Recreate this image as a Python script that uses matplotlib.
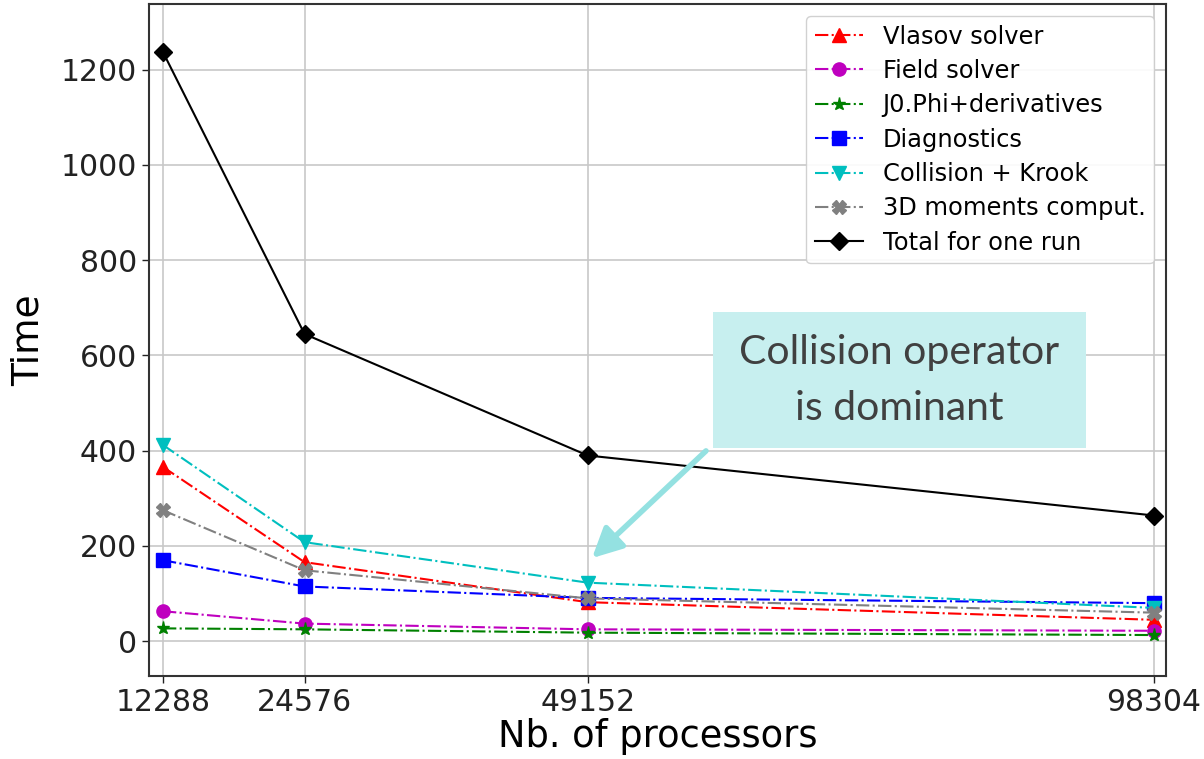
import matplotlib
matplotlib.use("Agg")
import matplotlib.pyplot as plt
from matplotlib.patches import Rectangle, FancyArrowPatch

plt.rcParams['font.family'] = ['DejaVu Sans']

procs = [12288, 24576, 49152, 98304]
xtick_labels = ["12288", "24576", "49152", "98304"]

vlasov = [366, 166, 82, 45]
field = [63, 37, 25, 22]
j0phi = [27, 25, 18, 13]
diagnostics = [170, 115, 91, 80]
collision = [412, 208, 123, 70]
moments3d = [275, 149, 90, 60]
total = [1237, 645, 390, 264]

series = [
    ("Vlasov solver", vlasov, "r", "^", "-."),
    ("Field solver", field, "m", "o", "-."),
    ("J0.Phi+derivatives", j0phi, "g", "*", "-."),
    ("Diagnostics", diagnostics, "b", "s", "-."),
    ("Collision + Krook", collision, "c", "v", "-."),
    ("3D moments comput.", moments3d, "grey", "X", "-."),
    ("Total for one run", total, "k", "D", "-"),
]

W, H = 1204, 759
fig = plt.figure(figsize=(W / 100, H / 100), dpi=100)
ax = fig.add_axes([149 / W, 1 - 676 / H, (1166 - 149) / W, (676 - 4) / H])

for label, vals, col, mk, ls in series:
    ax.plot(procs, vals, color=col, marker=mk, linestyle=ls, linewidth=1.5,
            markersize=9.5, label=label)

ax.set_xlim(11074, 99344)
ax.set_ylim(-73, 1338)
ax.set_xticks(procs)
ax.set_xticklabels(xtick_labels)
ax.set_yticks([0, 200, 400, 600, 800, 1000, 1200])
ax.tick_params(labelsize=21.5, length=5, width=1, colors="#222222")
ax.grid(True, color="#c8c8c8", linewidth=1.2)
for s in ax.spines.values():
    s.set_color("#333333")
    s.set_linewidth(1.5)
ax.set_xlabel("Nb. of processors", fontsize=26.5, labelpad=1)
ax.set_ylabel("Time", fontsize=27, labelpad=10)

leg = ax.legend(loc="upper right", fontsize=17.4, framealpha=0.9,
                borderaxespad=0.5, handlelength=2.0, labelspacing=0.43,
                borderpad=0.35)

# annotation box
box_l, box_r, box_t, box_b = 713, 1086, 312, 448
fig.patches.append(Rectangle((box_l / W, 1 - box_b / H), (box_r - box_l) / W,
                             (box_b - box_t) / H, transform=fig.transFigure,
                             facecolor="#c7efef", edgecolor="none", zorder=5))
fig.text((box_l + box_r) / 2 / W, 1 - 352 / H, "Collision operator",
         ha="center", va="center", fontsize=29.5, color="#404040",
         family="Lato", zorder=6)
fig.text((box_l + box_r) / 2 / W, 1 - 408 / H, "is dominant",
         ha="center", va="center", fontsize=29.5, color="#404040",
         family="Lato", zorder=6)
fig.add_artist(FancyArrowPatch(
    (708 / W, 1 - 449 / H), (590 / W, 1 - 560 / H), transform=fig.transFigure,
    arrowstyle="-|>,head_length=12,head_width=6", color="#94e1e1",
    linewidth=4, mutation_scale=1.5, zorder=6))

fig.savefig("out.png", dpi=100)
